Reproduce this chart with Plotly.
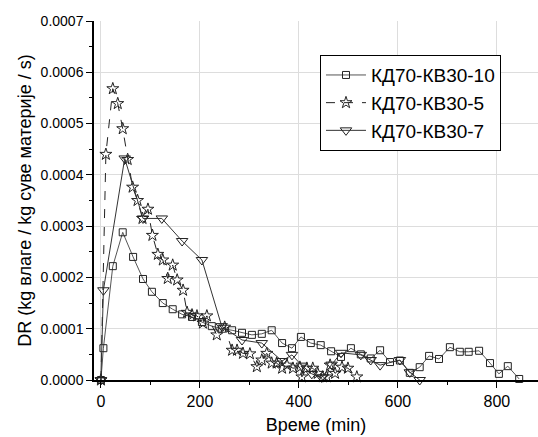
import plotly.graph_objects as go

# КД70-КВ30-10 (squares)
x10 = [0, 5, 24, 44, 65, 85, 103, 125, 145, 164, 184, 204, 224, 245, 265, 285, 305, 325, 345, 366,
       386, 404, 424, 444, 465, 485, 505, 525, 545, 564, 584, 604, 624, 644, 663, 683, 705, 725,
       743, 764, 786, 804, 822, 845]
y10 = [0.0, 0.000062, 0.000222, 0.000288, 0.00024, 0.000197, 0.000172, 0.00015, 0.000138, 0.000128,
       0.000123, 0.000113, 0.000105, 0.0001, 0.000097, 0.000092, 0.000088, 0.00009, 0.000097, 0.000072,
       0.000062, 0.000084, 0.000072, 0.000068, 0.000056, 0.000045, 0.000062, 0.00005, 0.000042, 0.000058,
       0.000035, 0.000038, 0.000014, 0.000025, 0.000047, 0.000041, 0.000064, 0.000055, 0.000055,
       0.000057, 0.000033, 0.000012, 0.000027, 0.000002]

# КД70-КВ30-5 (stars)
x5 = [0, 10, 24, 34, 44, 54, 64, 74, 84, 95, 104, 115, 125, 135, 145, 154, 166, 174, 184, 194,
      206, 214, 234, 250, 265, 275, 287, 301, 315, 325, 335, 345, 355, 366, 376, 388, 402, 406,
      416, 428, 438, 448, 456, 463, 473, 487, 499, 517]
y5 = [0.0, 0.00044, 0.000568, 0.000539, 0.00049, 0.00043, 0.000376, 0.00035, 0.000315, 0.000333,
      0.000282, 0.000245, 0.000234, 0.000198, 0.000224, 0.000195, 0.000175, 0.000132, 0.000127,
      0.000125, 0.000111, 0.000125, 0.000088, 0.000103, 0.000058, 0.000058, 0.000052, 0.000051,
      0.000026, 0.000039, 0.000052, 0.000033, 0.000033, 0.000023, 0.000029, 0.000023, 0.000025,
      0.000006, 0.000023, 0.000023, 0.000013, 0.000006, 0.000006, 0.000029, 0.000013, 0.000025,
      0.000023, 0.000006]

# КД70-КВ30-7 (down triangles)
x7 = [0, 5, 48, 85, 123, 164, 204, 244, 285, 325, 366, 386, 406, 426, 446, 466, 485, 525, 545,
      564, 604, 624, 644]
y7 = [0.0, 0.000175, 0.000432, 0.000315, 0.000315, 0.000271, 0.000234, 0.000105, 0.000078,
      0.000072, 0.000037, 0.000049, 0.000028, 0.000012, 0.000005, 0.00003, 0.000053, 0.000049,
      0.000039, 0.000029, 0.000039, 0.000015, 0.0]

font = "Liberation Sans, Arial, sans-serif"

fig = go.Figure()
fig.add_trace(go.Scatter(
    x=x10, y=y10, name="КД70-КВ30-10", mode="lines+markers",
    line=dict(color="#555555", width=1),
    marker=dict(symbol="square-open", size=7, color="#222222", line=dict(width=1)),
    cliponaxis=False))
fig.add_trace(go.Scatter(
    x=x5, y=y5, name="КД70-КВ30-5", mode="lines+markers",
    line=dict(color="#222222", width=1, dash="dash"),
    marker=dict(symbol="star-open", size=9, color="#222222", line=dict(width=1)),
    cliponaxis=False))
fig.add_trace(go.Scatter(
    x=x7, y=y7, name="КД70-КВ30-7", mode="lines+markers",
    line=dict(color="#333333", width=1),
    marker=dict(symbol="triangle-down-open", size=10, color="#222222", line=dict(width=1)),
    cliponaxis=False))

fig.update_layout(
    width=538, height=437,
    margin=dict(l=94, r=0, t=21, b=57),
    paper_bgcolor="white", plot_bgcolor="white",
    font=dict(family=font, size=14, color="black"),
    showlegend=True,
    legend=dict(x=0.509, y=0.905, xanchor="left", yanchor="top",
                bordercolor="black", borderwidth=1, bgcolor="white",
                font=dict(size=19), tracegroupgap=0, itemwidth=40),
)
fig.update_xaxes(
    range=[-14, 883], tickmode="linear", tick0=0, dtick=200,
    showline=True, linecolor="black", linewidth=1.5,
    ticks="outside", ticklen=6, tickcolor="black",
    minor=dict(dtick=100, ticks="outside", ticklen=3, tickcolor="black", showgrid=False),
    showgrid=True, gridcolor="#dddddd", zeroline=False,
    title=dict(text="Време (min)", font=dict(size=18), standoff=9),
    tickfont=dict(size=16),
)
fig.update_yaxes(
    range=[0, 0.0007], tickmode="linear", tick0=0, dtick=0.0001, tickformat=".4f",
    showline=True, linecolor="black", linewidth=1.5,
    ticks="outside", ticklen=6, tickcolor="black",
    minor=dict(dtick=0.00005, ticks="outside", ticklen=3, tickcolor="black", showgrid=False),
    showgrid=True, gridcolor="#dddddd", zeroline=False,
    title=dict(text="DR (kg влаге / kg суве материје / s)", font=dict(size=18), standoff=4),
    tickfont=dict(size=14),
)

fig.write_html("out.html")
